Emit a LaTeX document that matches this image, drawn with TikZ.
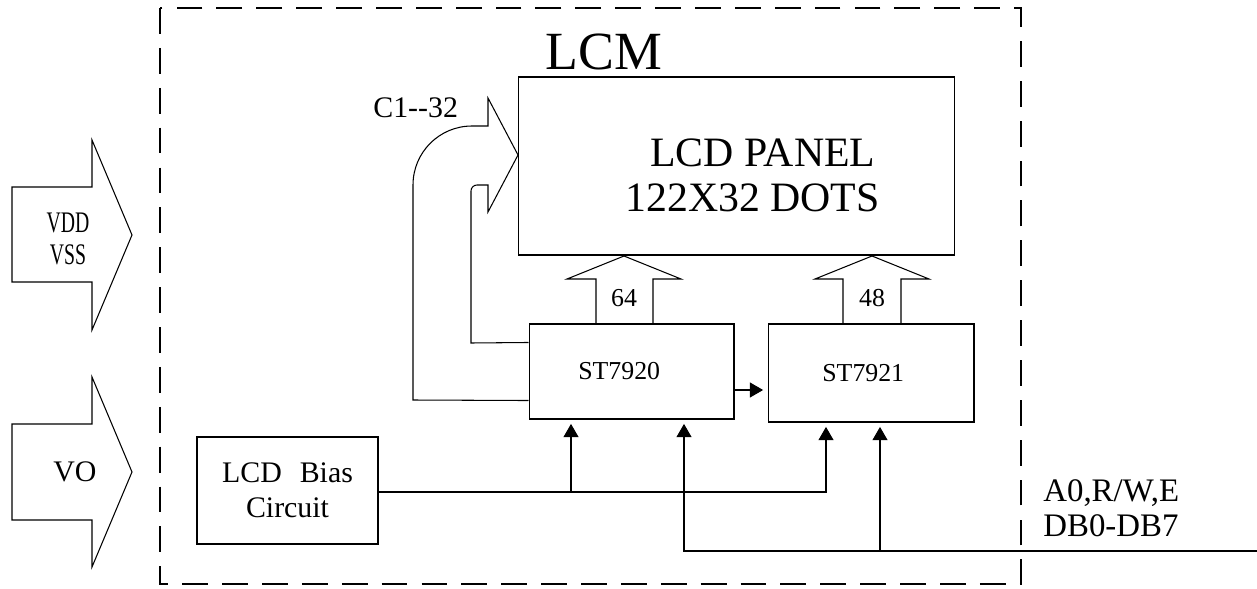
\documentclass[tikz,border=0pt]{standalone}
\usepackage{fontspec}
\setmainfont{Liberation Serif}
\newfontfamily\narrowfont[FakeStretch=0.66]{Liberation Serif}
\usetikzlibrary{arrows.meta,positioning,calc}

\begin{document}
\begin{tikzpicture}[
    x=0.02cm, y=-0.02cm,
    wire/.style={line width=0.6pt},
    sig/.style={wire,-{Triangle[length=7.5pt,width=8.5pt]},shorten >=2.5pt},
    block/.style={draw,line width=0.6pt,inner sep=0pt},
    chip/.style={block,font=\fontsize{14.7}{16}\selectfont},
    frame/.style={line width=0.6pt,dash pattern=on 14.7pt off 8pt},
    txt/.style={inner sep=0pt,font=\fontsize{17}{19.8}\selectfont}
  ]
    \useasboundingbox (0,0) rectangle (1257,588);

    % Module outline
    \draw[frame] (160,8) rectangle (1021,584);
    \node[anchor=base,inner sep=0pt,font=\fontsize{30.6}{32}\selectfont] (lcm) at (604,70) {LCM};

    % Panel, drivers and bias block
    \node[block,minimum width=8.74cm,minimum height=3.56cm] (panel) at (736.5,166) {};
    \node[inner sep=0pt,align=left,font=\fontsize{23.8}{25.5}\selectfont] (paneltxt) at (752.5,175) {\hspace*{0.6em}LCD PANEL\\122X32 DOTS};
    \node[chip,minimum width=4.10cm,minimum height=1.90cm] (st0) at (631.5,371.5) {ST7920\hspace*{0.95em}};
    \node[chip,minimum width=4.12cm,minimum height=1.96cm] (st1) at (871,373) {ST7921\hspace*{0.6em}};
    \node[block,align=center,font=\fontsize{17}{19.8}\selectfont,minimum width=3.62cm,minimum height=2.14cm] (bias) at (287.5,490.5) {LCD\hspace{0.6em}Bias\\Circuit};

    % Supply inputs (hollow arrows)
    \draw[wire] (12,187) -- (92,187) -- (92,140) -- (132,235) -- (92,330) -- (92,282) -- (12,282) -- cycle;
    \node[txt,align=center,font=\narrowfont\fontsize{17}{18.1}\selectfont] (vdd) at (68,239) {VDD\\VSS};
    \draw[wire] (12,424) -- (92,424) -- (92,377) -- (132,472) -- (92,567) -- (92,520) -- (12,520) -- cycle;
    \node[txt] (vo) at (75,472) {VO};

    % Common outputs C1--32
    \draw[wire] ($(st0.south west)+(0,-19)$) -- (413,400) -- (413,185) to[out=90,in=180] (472,126)
        -- (488,126) -- (488,98) -- (518,155) -- (488,212) -- (488,185) -- (477,185)
        to[out=180,in=90] (471,191) -- (471,343) -- ($(st0.north west)+(0,19)$);
    \node[txt,anchor=base west] (com) at (373,117) {C1-{}-32};

    % Segment outputs
    \draw[wire] (596,324) -- (596,279) -- (567,279) -- (624,256) -- (681,279) -- (653,279) -- (653,324);
    \node[chip,draw=none] (seg0) at (624,298) {64};
    \draw[wire] (843,324) -- (843,279) -- (815,279) -- (872,256) -- (929,279) -- (901,279) -- (901,324);
    \node[chip,draw=none] (seg1) at (872,298) {48};

    % Cascade
    \coordinate (m) at (750,390);
    \draw[sig] (st0.east |- m) -- (st1.west |- m);

    % Bias supply
    \coordinate (a1) at (571,492);
    \coordinate (a3) at (826,492);
    \draw[sig] (bias.east |- a1) -| (a3 |- st1.south);
    \draw[sig] (a1) -- (a1 |- st0.south);

    % MPU bus
    \coordinate (a2) at (684,551);
    \coordinate (a4) at (880,551);
    \coordinate (busend) at (1257,551);
    \draw[sig] (busend) -| (a2 |- st0.south);
    \draw[sig] (a4) -- (a4 |- st1.south);
    \node[txt,anchor=west,align=left,font=\fontsize{18.7}{19.8}\selectfont] (bus) at (1043,508.5) {A0,R/W,E\\DB0-DB7};
\end{tikzpicture}
\end{document}
